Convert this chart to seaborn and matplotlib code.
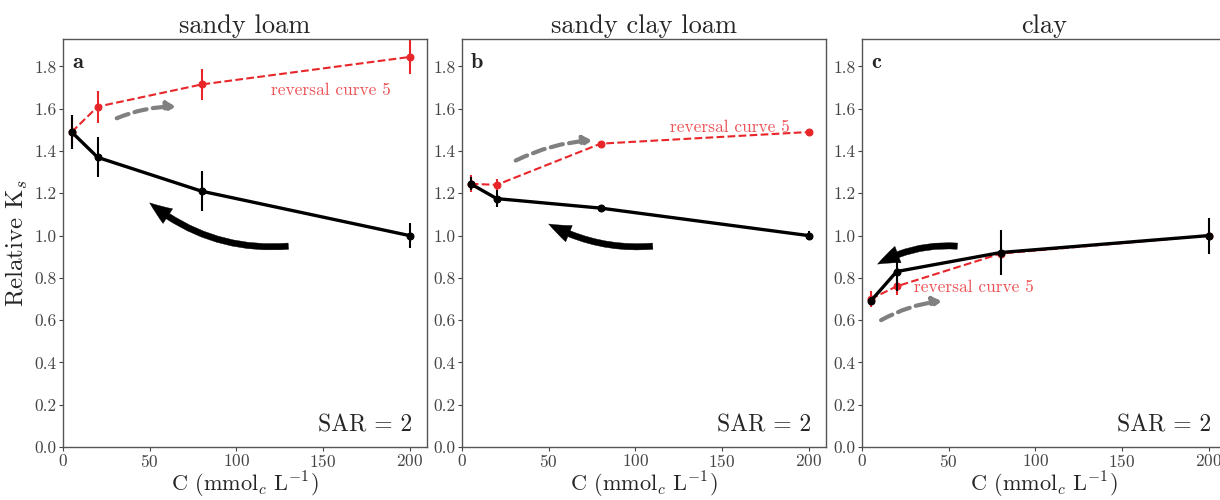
import numpy as np
import pandas as pd
import matplotlib
matplotlib.use("Agg")
import matplotlib.pyplot as plt
import seaborn as sns

# ---------------- data ----------------
conc = [5, 20, 80, 200]
soils = ["sandy loam", "sandy clay loam", "clay"]
letters = ["a", "b", "c"]

ks_down_a = [1.49, 1.37, 1.21, 1.00]
err_down_a = [0.08, 0.095, 0.095, 0.06]
ks_rev_a = [1.49, 1.61, 1.715, 1.845]
err_rev_a = [0.08, 0.075, 0.075, 0.08]

ks_down_b = [1.245, 1.175, 1.13, 1.00]
err_down_b = [0.03, 0.04, 0.01, 0.02]
ks_rev_b = [1.245, 1.24, 1.435, 1.49]
err_rev_b = [0.04, 0.03, 0.005, 0.005]

ks_down_c = [0.69, 0.83, 0.92, 1.00]
err_down_c = [0.02, 0.09, 0.105, 0.085]
ks_rev_c = [0.70, 0.76, 0.915, 1.00]
err_rev_c = [0.04, 0.04, 0.005, 0.02]

down = [ks_down_a, ks_down_b, ks_down_c]
down_err = [err_down_a, err_down_b, err_down_c]
rev = [ks_rev_a, ks_rev_b, ks_rev_c]
rev_err = [err_rev_a, err_rev_b, err_rev_c]

# annotation positions (data coords)
label_pos = [(120, 1.685), (120, 1.51), (30, 0.755)]
black_arrow = [((130, 0.95), (50, 1.155)), ((110, 0.95), (50, 1.055)), ((55, 0.95), (9, 0.865))]
gray_arrow = [((31, 1.555), (65, 1.61)), ((31, 1.355), (75, 1.45)), ((11, 0.60), (46, 0.69))]
black_rad = [-0.2, -0.15, 0.15]

sns.set_style("white")
plt.rcParams["font.family"] = ["cmr10", "DejaVu Serif"]
plt.rcParams["mathtext.fontset"] = "cm"
plt.rcParams["axes.formatter.use_mathtext"] = True
plt.rcParams["axes.unicode_minus"] = False

RED = "#e8262a"
fig = plt.figure(figsize=(12.2, 5), dpi=100)
lefts = [63 / 1220, 462 / 1220, 862 / 1220]
axes = [fig.add_axes([l, 53 / 500, 364 / 1220, 408 / 500]) for l in lefts]

for i, ax in enumerate(axes):
    df = pd.DataFrame({"C": conc * 2,
                       "Ks": down[i] + rev[i],
                       "curve": ["down"] * 4 + ["rev"] * 4})
    # reversal (red dashed)
    ax.errorbar(conc, rev[i], yerr=rev_err[i], fmt="none", ecolor=RED, elinewidth=1.5, zorder=2)
    sns.lineplot(data=df[df.curve == "rev"], x="C", y="Ks", ax=ax, color=RED,
                 linestyle="--", linewidth=1.5, marker="o", markersize=5,
                 markeredgecolor=RED, zorder=3)
    # downward (black)
    ax.errorbar(conc, down[i], yerr=down_err[i], fmt="none", ecolor="black", elinewidth=1.5, zorder=4)
    sns.lineplot(data=df[df.curve == "down"], x="C", y="Ks", ax=ax, color="black",
                 linewidth=2.4, marker="o", markersize=5, markeredgecolor="black", zorder=5)

    ax.text(label_pos[i][0], label_pos[i][1], "reversal curve 5", color=RED, alpha=0.8,
            fontsize=12.5, ha="left", va="center")

    (x0, y0), (x1, y1) = black_arrow[i]
    ax.annotate("", xy=(x1, y1), xytext=(x0, y0),
                arrowprops=dict(arrowstyle="simple,head_length=0.9,head_width=0.7,tail_width=0.25",
                                facecolor="black", edgecolor="black", lw=0.3, mutation_scale=18,
                                connectionstyle=f"arc3,rad={black_rad[i]}",
                                shrinkA=0, shrinkB=0))
    (x0, y0), (x1, y1) = gray_arrow[i]
    ax.annotate("", xy=(x1, y1), xytext=(x0, y0),
                arrowprops=dict(arrowstyle="-|>,head_length=0.5,head_width=0.3", color="gray",
                                lw=3, linestyle=(0, (3, 1.5)),
                                connectionstyle="arc3,rad=-0.1", shrinkA=0, shrinkB=0))

    ax.set_xlim(0, 210)
    ax.set_ylim(0, 1.93)
    ax.set_xticks([0, 50, 100, 150, 200])
    ax.set_yticks(np.arange(0, 1.81, 0.2))
    ax.set_yticklabels([f"{v:.1f}" for v in np.arange(0, 1.81, 0.2)])
    ax.tick_params(axis="both", labelsize=12.5, colors="#444444", direction="out",
                   length=3, pad=1.5, left=True, bottom=True)
    for s in ax.spines.values():
        s.set_color("#555555")
        s.set_linewidth(1.0)
    ax.set_title(soils[i], fontsize=19, pad=4)
    ax.set_xlabel(r"C (mmol$_c$ L$^{-1}$)", fontsize=16, labelpad=0)
    ax.set_ylabel("")
    ax.text(0.025, 0.965, letters[i], transform=ax.transAxes, fontsize=16,
            fontfamily=["cmb10", "DejaVu Serif"], ha="left", va="top")
    ax.text(0.96, 0.025, "SAR = 2", transform=ax.transAxes, fontsize=17,
            ha="right", va="bottom")

axes[0].set_ylabel(r"Relative K$_s$", fontsize=18, labelpad=3)

plt.savefig("out.png", dpi=100)
